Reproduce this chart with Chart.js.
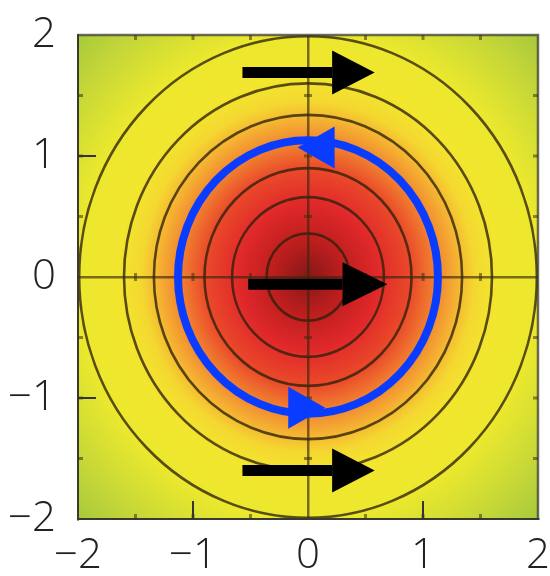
<!DOCTYPE html>
<html><head><meta charset="utf-8">
<script src="https://cdn.jsdelivr.net/npm/chart.js@4/dist/chart.umd.min.js"></script>
<style>html,body{margin:0;padding:0;background:#fff;} #wrap{width:550px;height:576px;}</style>
</head><body><div id="wrap"><canvas id="c" width="550" height="576"></canvas></div>
<script>
// ---- data ----
const xTicks = [-2, -1, 0, 1, 2];
const yTicks = [-2, -1, 0, 1, 2];
const minorSteps = [-1.5, -1, -0.5, 0.5, 1, 1.5];
const contourRadii = [0.36, 0.66, 0.9, 1.34, 1.6, 1.99];
const heatStops = [0, 0.3, 0.6, 0.9, 1.1, 1.3, 1.45, 1.65, 2.0, 2.25, 2.5, 2.9];
const heatColors = ['#861717', '#bc1e1e', '#e0282a', '#ea4a2a', '#f08030', '#f5b232', '#f4d830', '#f2e62e', '#ece82e', '#d8e032', '#c4d638', '#a0c63e'];
const blueRadius = [1.13];
const arrowTailX = [-0.57, -0.52, -0.57];
const arrowBaseX = [0.21, 0.30, 0.21];
const arrowTipX = [0.58, 0.69, 0.58];
const arrowY = [1.69, -0.06, -1.60];
const blueHeadTipX = [-0.09, 0.15];
const blueHeadTipY = [1.07, -1.08];
const blueHeadDir = [-1, 1];

const FONT = {family: "'Open Sans', 'Noto Sans', sans-serif", size: 42, weight: '300'};

const arrowDatasets = arrowY.map((yv, i) => ({
  label: 'arrow' + i,
  data: [{x: arrowTailX[i], y: yv}, {x: arrowBaseX[i], y: yv}],
  showLine: true,
  borderColor: '#000',
  backgroundColor: '#000',
  borderWidth: 11,
  borderCapStyle: 'butt',
  pointRadius: 0,
  pointHoverRadius: 0
}));

function clipArea(ctx, a) {
  ctx.beginPath();
  ctx.rect(a.left, a.top, a.right - a.left, a.bottom - a.top);
  ctx.clip();
}

const bgPlugin = {
  id: 'bg',
  beforeDraw(chart) {
    const {ctx, chartArea: a, scales: {x, y}} = chart;
    const cx = x.getPixelForValue(0), cy = y.getPixelForValue(0);
    const ux = x.getPixelForValue(1) - cx, uy = cy - y.getPixelForValue(1);
    ctx.save();
    clipArea(ctx, a);
    ctx.translate(cx, cy);
    ctx.scale(ux, uy);
    const rMax = heatStops[heatStops.length - 1];
    const g = ctx.createRadialGradient(0, 0, 0, 0, 0, rMax);
    heatStops.forEach((s, i) => g.addColorStop(s / rMax, heatColors[i]));
    ctx.fillStyle = g;
    ctx.fillRect(-3, -3, 6, 6);
    ctx.restore();
    ctx.save();
    clipArea(ctx, a);
    ctx.strokeStyle = 'rgba(45,32,10,0.78)';
    ctx.lineWidth = 2.6;
    contourRadii.forEach(r => {
      ctx.beginPath();
      ctx.ellipse(cx, cy, r * ux, r * uy, 0, 0, Math.PI * 2);
      ctx.stroke();
    });
    ctx.restore();
  }
};

const overlayPlugin = {
  id: 'overlay',
  beforeDatasetsDraw(chart) {
    const {ctx, chartArea: a, scales: {x, y}} = chart;
    const cx = x.getPixelForValue(0), cy = y.getPixelForValue(0);
    ctx.save();
    // frame top/right
    ctx.strokeStyle = 'rgba(60,60,50,0.75)';
    ctx.lineWidth = 2.5;
    ctx.beginPath();
    ctx.moveTo(a.left, a.top); ctx.lineTo(a.right, a.top); ctx.lineTo(a.right, a.bottom);
    ctx.stroke();
    // minor marks on edges and along axis lines
    ctx.strokeStyle = 'rgba(60,45,20,0.55)';
    ctx.lineWidth = 3;
    minorSteps.forEach(v => {
      const px = x.getPixelForValue(v), py = y.getPixelForValue(v);
      ctx.beginPath();
      ctx.moveTo(px, a.top); ctx.lineTo(px, a.top + 5);
      ctx.moveTo(px, a.bottom); ctx.lineTo(px, a.bottom - 5);
      ctx.moveTo(a.left, py); ctx.lineTo(a.left + 5, py);
      ctx.moveTo(a.right, py); ctx.lineTo(a.right - 5, py);
      ctx.moveTo(px, cy - 4); ctx.lineTo(px, cy + 4);
      ctx.moveTo(cx - 4, py); ctx.lineTo(cx + 4, py);
      ctx.stroke();
    });
    // major inward ticks on left and bottom
    ctx.strokeStyle = '#333';
    ctx.lineWidth = 2;
    xTicks.filter(v => Math.abs(v) === 1).forEach(v => {
      const px = x.getPixelForValue(v);
      ctx.beginPath(); ctx.moveTo(px, a.bottom); ctx.lineTo(px, a.bottom - 18); ctx.stroke();
    });
    yTicks.filter(v => Math.abs(v) === 1).forEach(v => {
      const py = y.getPixelForValue(v);
      ctx.beginPath(); ctx.moveTo(a.left, py); ctx.lineTo(a.left + 18, py); ctx.stroke();
    });
    // blue circulation loop
    ctx.strokeStyle = '#0a3cff';
    ctx.lineWidth = 8;
    blueRadius.forEach(r => {
      ctx.beginPath();
      ctx.ellipse(cx, cy, x.getPixelForValue(r) - cx, cy - y.getPixelForValue(r), 0, 0, Math.PI * 2);
      ctx.stroke();
    });
    ctx.fillStyle = '#0a3cff';
    blueHeadTipX.forEach((tx, i) => {
      const px = x.getPixelForValue(tx), py = y.getPixelForValue(blueHeadTipY[i]);
      const d = blueHeadDir[i];
      ctx.beginPath();
      ctx.moveTo(px, py);
      ctx.lineTo(px - d * 37, py - 21);
      ctx.lineTo(px - d * 37, py + 21);
      ctx.closePath();
      ctx.fill();
    });
    ctx.restore();
  },
  afterDatasetsDraw(chart) {
    const {ctx, scales: {x, y}} = chart;
    ctx.save();
    ctx.fillStyle = '#000';
    arrowY.forEach((yv, i) => {
      const bx = x.getPixelForValue(arrowBaseX[i]);
      const tx = x.getPixelForValue(arrowTipX[i]);
      const py = y.getPixelForValue(yv);
      ctx.beginPath();
      ctx.moveTo(tx, py);
      ctx.lineTo(bx, py - 22);
      ctx.lineTo(bx, py + 22);
      ctx.closePath();
      ctx.fill();
    });
    ctx.restore();
  }
};

function axisGrid() {
  return {
    drawTicks: false,
    lineWidth: 2.5,
    color: c => (c.tick && c.tick.value === 0) ? 'rgba(55,40,10,0.65)' : 'rgba(0,0,0,0)'
  };
}

new Chart(document.getElementById('c'), {
  type: 'scatter',
  data: {datasets: arrowDatasets},
  options: {
    responsive: false,
    animation: false,
    events: [],
    layout: {padding: {top: 35, right: 12, bottom: 0, left: 0}},
    plugins: {legend: {display: false}, tooltip: {enabled: false}},
    scales: {
      x: {
        type: 'linear', position: 'bottom', min: -2, max: 2,
        afterBuildTicks: s => { s.ticks = xTicks.map(v => ({value: v})); },
        afterFit: s => { s.height = 57; s.paddingLeft = 0; s.paddingRight = 0; },
        ticks: {font: FONT, color: '#222', padding: 12, maxRotation: 0, autoSkip: false,
                callback: v => String(v).replace('-', '\u2212')},
        grid: axisGrid(),
        border: {display: true, color: '#3a3a30', width: 2}
      },
      y: {
        type: 'linear', position: 'left', min: -2, max: 2,
        afterBuildTicks: s => { s.ticks = yTicks.map(v => ({value: v})); },
        afterFit: s => { s.width = 78; s.paddingTop = 0; s.paddingBottom = 0; },
        ticks: {font: FONT, color: '#222', padding: 22, autoSkip: false,
                callback: v => String(v).replace('-', '\u2212')},
        grid: axisGrid(),
        border: {display: true, color: '#3a3a30', width: 2}
      }
    }
  },
  plugins: [bgPlugin, overlayPlugin]
});
</script>
</body></html>
